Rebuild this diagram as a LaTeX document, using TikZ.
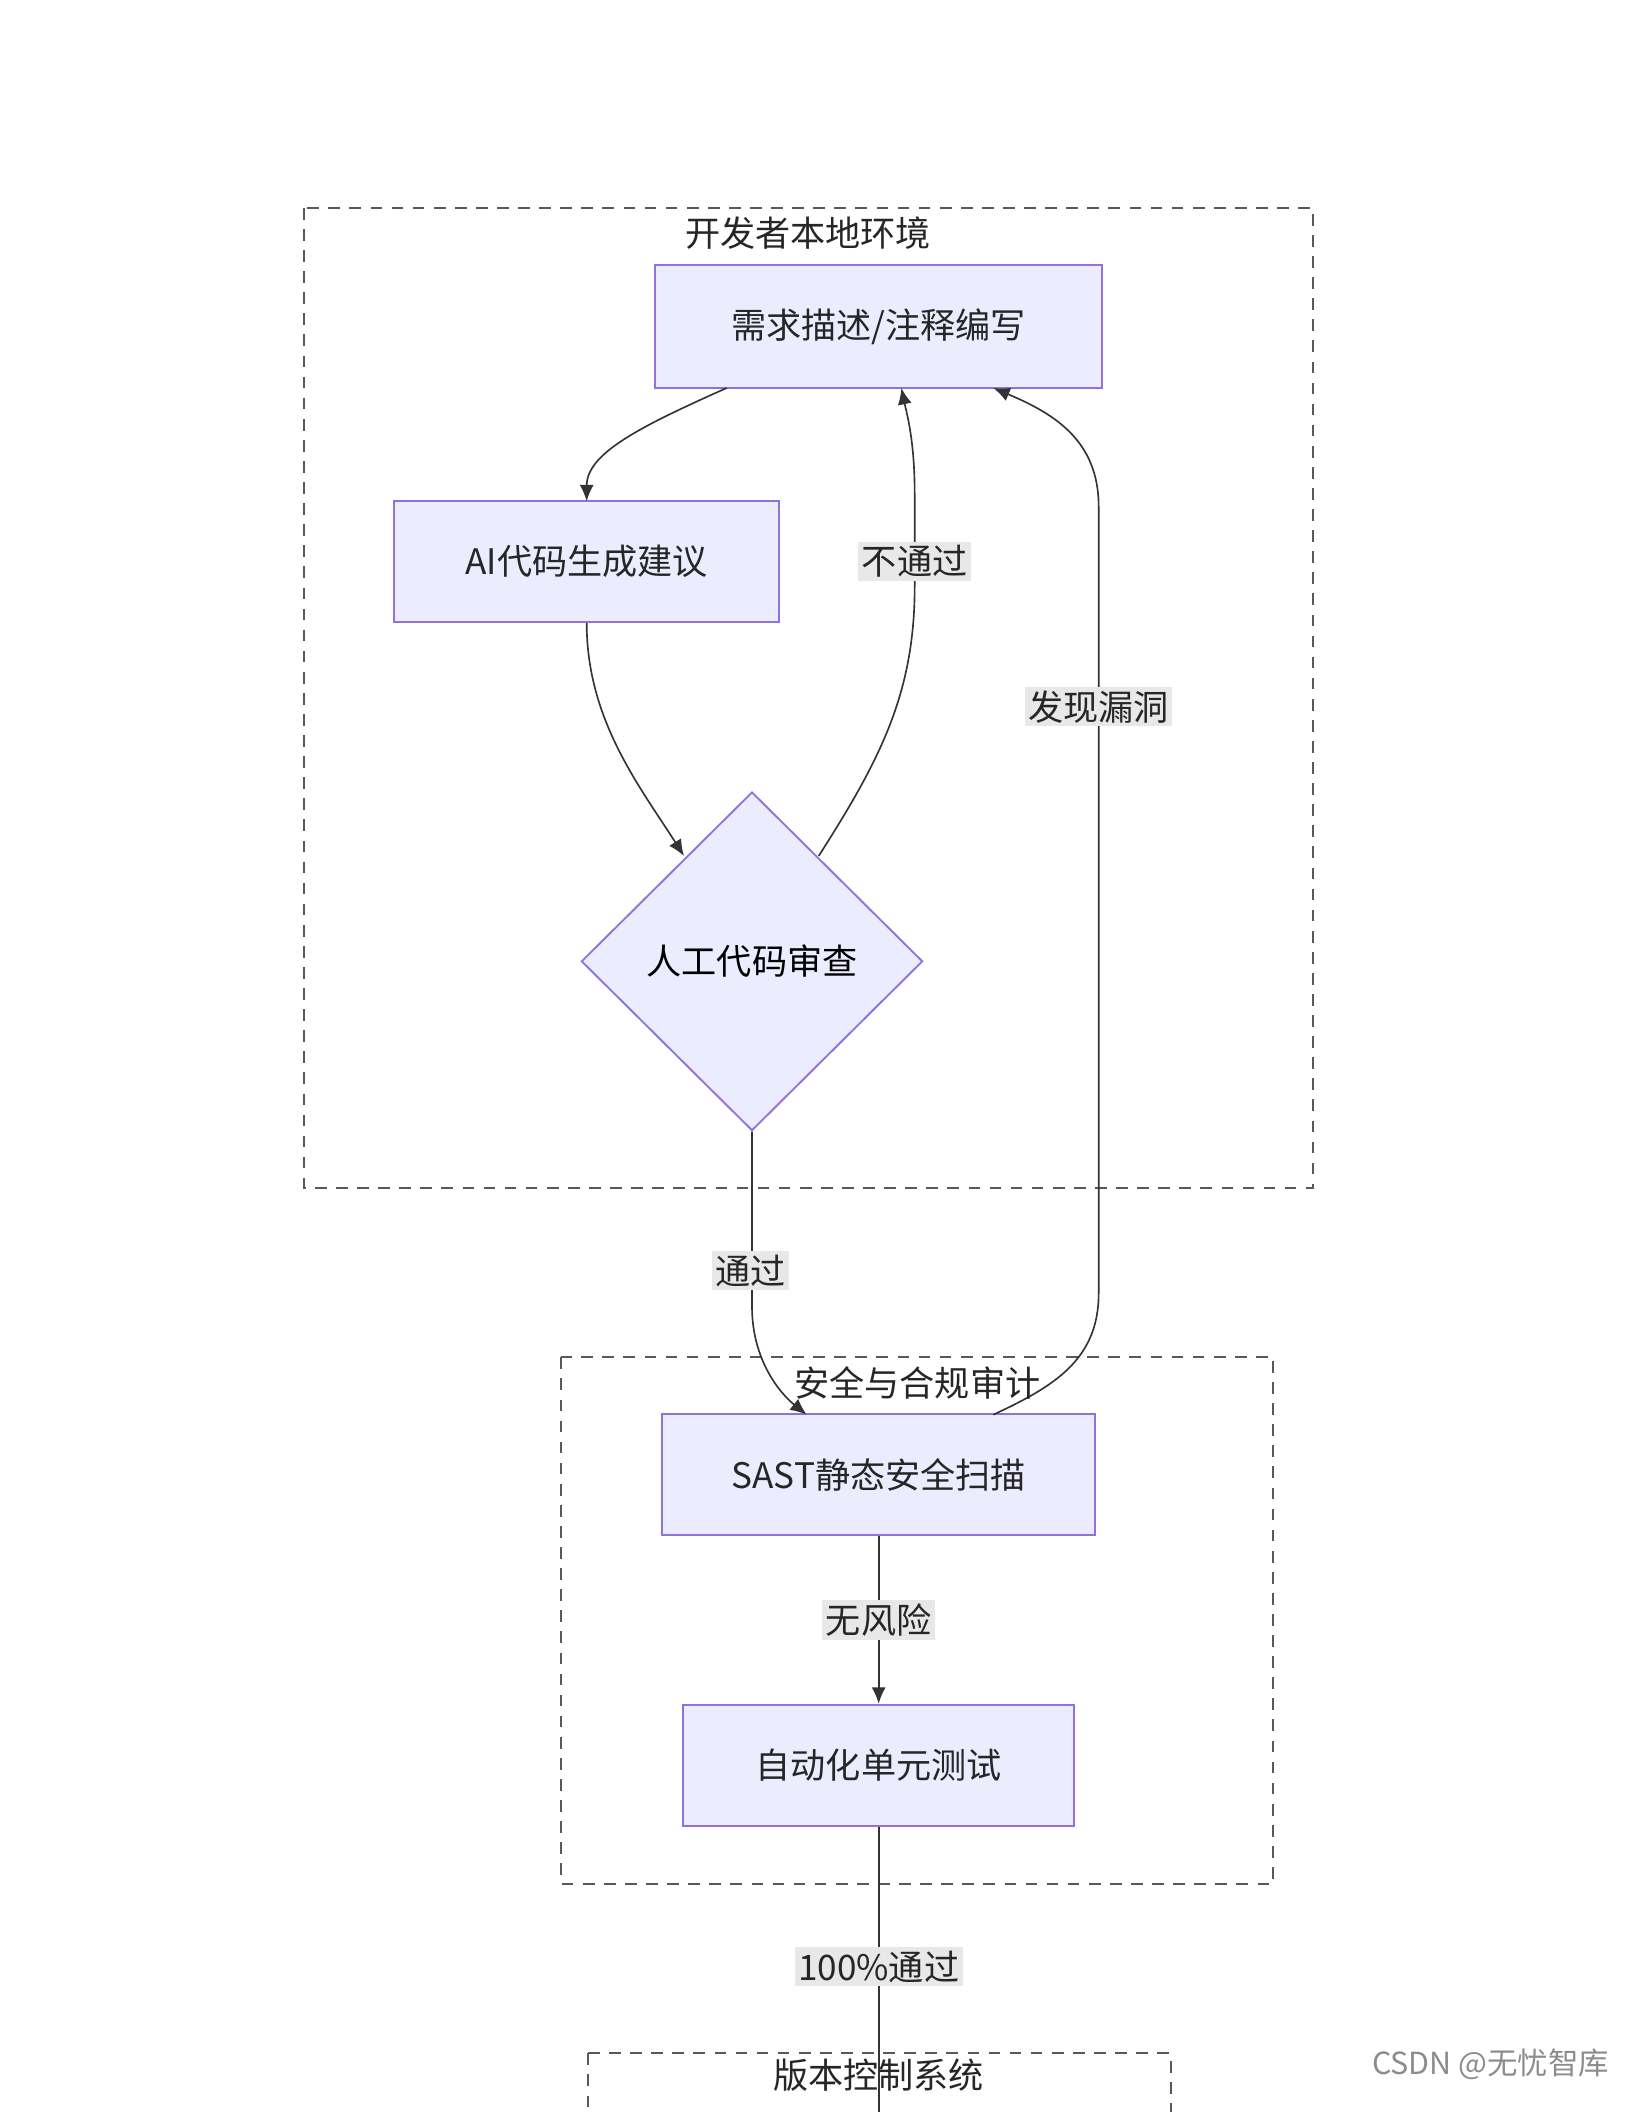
\documentclass[tikz,border=0pt]{standalone}
\usepackage{fontspec}
\setmainfont{Noto Sans CJK SC}
\usetikzlibrary{shapes.geometric,arrows.meta}
\definecolor{nodefill}{HTML}{ECECFF}
\definecolor{nodedraw}{HTML}{9370DB}
\definecolor{lblfill}{HTML}{E8E8E8}
\definecolor{edgecol}{HTML}{333333}
\tikzset{
  px/.style={x=0.02cm,y=-0.02cm},
  box/.style={rectangle, draw=nodedraw, fill=nodefill, line width=0.8pt, font=\fontsize{15}{18}\selectfont, text=black!85},
  dec/.style={diamond, draw=nodedraw, fill=nodefill, line width=0.8pt, font=\fontsize{15}{18}\selectfont, aspect=1, inner sep=0pt, minimum width=256*0.02cm, minimum height=254*0.02cm},
  cluster/.style={draw=black!65, dashed, dash pattern=on 5pt off 4pt, line width=0.8pt},
  ctitle/.style={font=\fontsize{15}{18}\selectfont, text=black!85},
  lbl/.style={fill=lblfill, font=\fontsize{15}{18}\selectfont, text=black!85, inner sep=1.5pt},
  edge/.style={draw=edgecol, line width=0.7pt, -{Latex[length=7pt,width=6pt]}},
}
\begin{document}
\begin{tikzpicture}[px]
\useasboundingbox (0,0) rectangle (1224,1584);
% clusters
\draw[cluster] (228,156) rectangle (985,891);
\node[ctitle] (t1) at (606,175) {开发者本地环境};
\draw[cluster] (421,1018) rectangle (955,1413);
\draw[cluster] (441,1540) -- (441,1600) (441,1540) -- (878,1540) -- (878,1600);
% nodes
\node[box, minimum width=335*0.02cm, minimum height=92*0.02cm] (req) at (659,245) {需求描述/注释编写};
\node[box, minimum width=289*0.02cm, minimum height=91*0.02cm] (ai) at (440,421) {AI代码生成建议};
\node[dec] (rev) at (564,721) {人工代码审查};
\node[box, minimum width=325*0.02cm, minimum height=91*0.02cm] (sast) at (659,1106) {SAST静态安全扫描};
\node[box, minimum width=293*0.02cm, minimum height=91*0.02cm] (test) at (659,1324) {自动化单元测试};
\coordinate (bot) at (659,1584);
% edges
\draw[edge] (545,291) .. controls (480,320) and (440,340) .. (440,376);
\draw[edge] (ai.south) .. controls (440,540) and (480,590) .. (513,642);
\draw[edge] (614,642) .. controls (660,570) and (686,520) .. (686,440) -- (686,370) .. controls (686,330) and (680,310) .. (676,291);
\draw[edge] (rev.south) -- (564,980) .. controls (564,1020) and (585,1045) .. (605,1061);
\draw[edge] (745,1061) .. controls (790,1040) and (824,1020) .. (824,970) -- (824,380) .. controls (824,330) and (790,310) .. (745,291);
\draw[edge] (sast.south) -- (test.north);
\draw[draw=edgecol, line width=0.7pt] (test.south) -- (bot);
% edge labels
\node[lbl] (l1) at (686,421) {不通过};
\node[lbl] (l2) at (824,530) {发现漏洞};
\node[lbl] (l3) at (563,953) {通过};
\node[lbl] (l4) at (659,1215) {无风险};
\node[lbl] (l5) at (659,1475) {100\%通过};
% cluster titles drawn above edges
\node[ctitle] (t2) at (688,1037) {安全与合规审计};
\node[ctitle] (t3) at (659,1556) {版本控制系统};
\node[font=\fontsize{13}{15}\selectfont, text=black!45] (wm) at (1118,1548) {CSDN @无忧智库};
\end{tikzpicture}
\end{document}
